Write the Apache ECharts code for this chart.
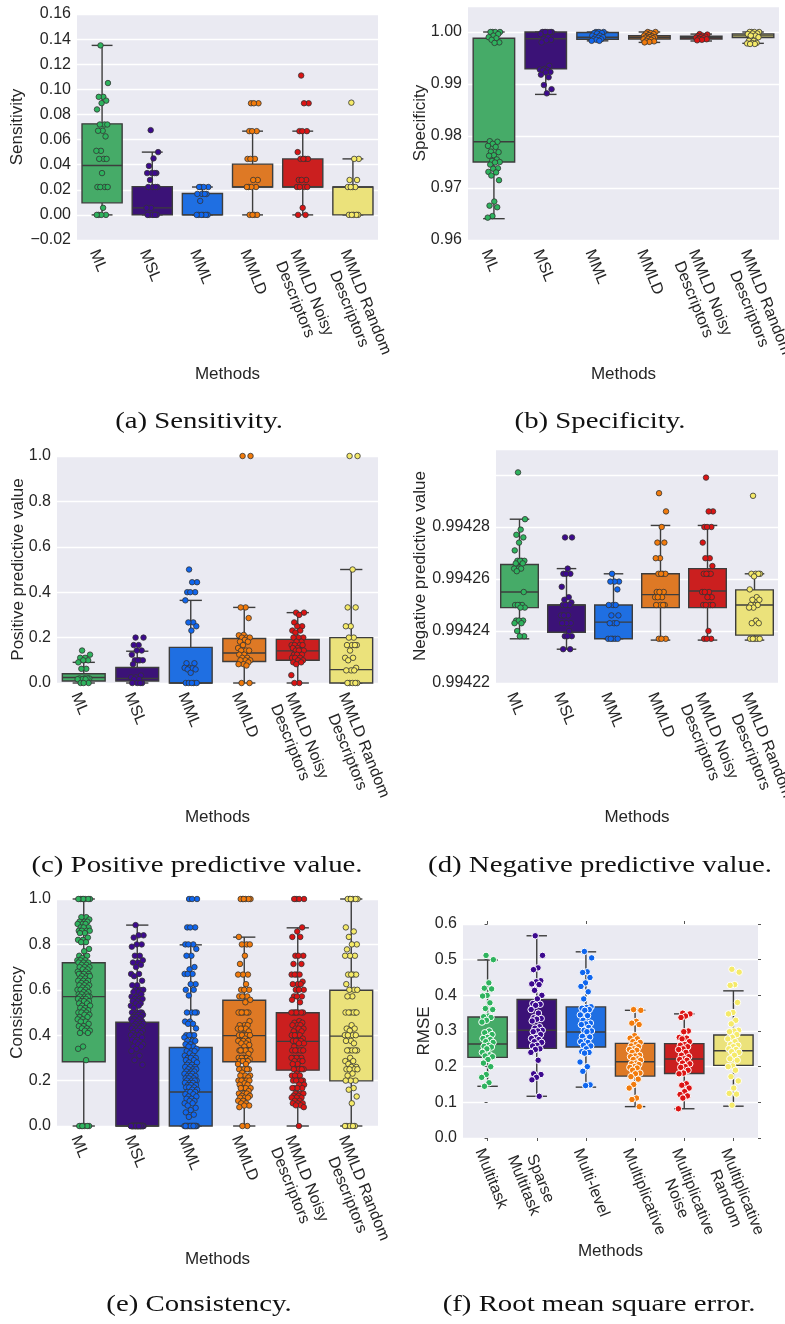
<!DOCTYPE html>
<html>
<head>
<meta charset="utf-8">
<script src="https://cdn.jsdelivr.net/npm/echarts@6/dist/echarts.min.js"></script>
<style>
  html, body { margin: 0; padding: 0; background: #ffffff; }
  #chart { width: 785px; height: 1324px; }
</style>
</head>
<body>
<div id="chart"></div>
<script>
// ---- categories ----
const methodNames = ['ML', 'MSL', 'MML', 'MMLD', 'MMLD Noisy\nDescriptors', 'MMLD Random\nDescriptors'];
const rmseMethodNames = ['Multitask', 'Sparse\nMultitask', 'Multi-level', 'Multiplicative', 'Multiplicative\nNoise', 'Multiplicative\nRandom'];

// ---- box statistics per method: [lower whisker, Q1, median, Q3, upper whisker] ----
const sensitivityBoxes = [
  [0, 0.0096, 0.0393, 0.0725, 0.135],
  [0, 0, 0.0056, 0.0225, 0.050],
  [0, 0, 0, 0.017, 0.0222],
  [0, 0.0222, 0.0222, 0.0404, 0.0667],
  [0, 0.0222, 0.0222, 0.0446, 0.0667],
  [0, 0, 0.0222, 0.0222, 0.0446]
];
const specificityBoxes = [
  [0.9641, 0.9750, 0.9789, 0.9988, 1.0],
  [0.9880, 0.9929, 0.9987, 1.0, 1.0],
  [0.9983, 0.9986, 0.9990, 0.9999, 1.0],
  [0.9980, 0.99865, 0.9990, 0.99929, 1.0],
  [0.99827, 0.99865, 0.9989, 0.99917, 0.9996],
  [0.99782, 0.99891, 0.99925, 0.99961, 1.0]
];
const ppvBoxes = [
  [0, 0.009, 0.024, 0.041, 0.091],
  [0, 0.009, 0.02, 0.068, 0.14],
  [0, 0, 0, 0.157, 0.364],
  [0, 0.095, 0.132, 0.196, 0.333],
  [0, 0.100, 0.1416, 0.192, 0.310],
  [0, 0, 0.059, 0.2, 0.5]
];
const npvBoxes = [
  [0.994237, 0.994249, 0.994255, 0.9942656, 0.994283],
  [0.994233, 0.9942395, 0.99425, 0.99425, 0.994264],
  [0.994237, 0.994237, 0.9942434, 0.99425, 0.994262],
  [0.9942365, 0.994249, 0.994254, 0.994262, 0.9942806],
  [0.9942365, 0.994249, 0.9942554, 0.994264, 0.9942806],
  [0.9942365, 0.9942384, 0.99425, 0.9942558, 0.994262]
];
const consistencyBoxes = [
  [0, 0.283, 0.570, 0.719, 1.0],
  [0, 0, 0, 0.457, 0.885],
  [0, 0, 0.150, 0.346, 0.798],
  [0, 0.283, 0.398, 0.554, 0.832],
  [0, 0.246, 0.373, 0.499, 0.873],
  [0, 0.199, 0.396, 0.598, 1.0]
];
const rmseBoxes = [
  [0.145, 0.226, 0.2636, 0.3394, 0.499],
  [0.117, 0.2514, 0.302, 0.3882, 0.567],
  [0.1426, 0.255, 0.2973, 0.3676, 0.522],
  [0.088, 0.1736, 0.2139, 0.2654, 0.358],
  [0.082, 0.181, 0.2214, 0.2645, 0.348],
  [0.0892, 0.2036, 0.2448, 0.2889, 0.4126]
];

// ---- individual observations per method ----
const sensitivityPoints = [
  [0.135, 0.105, 0.094, 0.094, 0.091, 0.089, 0.084, 0.072, 0.072, 0.072, 0.067, 0.067, 0.0625, 0.051, 0.051, 0.0446, 0.0446, 0.0446, 0.0333, 0.0222, 0.0222, 0.0222, 0.0222, 0.0056, 0, 0, 0, 0],
  [0.0675, 0.050, 0.045, 0.039, 0.0333, 0.0333, 0.0333, 0.0333, 0.0278, 0.0222, 0.0222, 0.0222, 0.0222, 0.0056, 0.0056, 0, 0, 0, 0, 0, 0],
  [0.0222, 0.0222, 0.0222, 0.0222, 0.0167, 0.0167, 0.0167, 0.0167, 0.0111, 0, 0, 0, 0, 0, 0],
  [0.0889, 0.0889, 0.0889, 0.0667, 0.0667, 0.0667, 0.0446, 0.0446, 0.0446, 0.0278, 0.0278, 0.0222, 0.0222, 0.0222, 0.0222, 0, 0, 0, 0],
  [0.111, 0.0889, 0.0889, 0.0667, 0.0667, 0.0667, 0.050, 0.0446, 0.0446, 0.0446, 0.0446, 0.0278, 0.0278, 0.0278, 0.0222, 0.0222, 0.0222, 0.0222, 0.0056, 0, 0],
  [0.0894, 0.0446, 0.0446, 0.0278, 0.0278, 0.0222, 0.0222, 0.0222, 0.0222, 0, 0, 0, 0, 0]
];
const specificityPoints = [
  [1.0, 1.0, 1.0, 1.0, 0.9996, 0.9993, 0.9990, 0.9988, 0.9985, 0.9980, 0.9979, 0.9790, 0.9789, 0.9785, 0.9781, 0.9779, 0.9770, 0.9769, 0.9763, 0.9762, 0.9755, 0.9752, 0.9750, 0.9749, 0.9745, 0.9738, 0.9737, 0.9731, 0.9730, 0.9724, 0.9715, 0.9674, 0.9666, 0.9663, 0.9646, 0.9643],
  [1.0, 1.0, 1.0, 1.0, 1.0, 1.0, 0.9996, 0.9990, 0.9986, 0.9985, 0.9984, 0.9980, 0.9935, 0.9929, 0.9928, 0.9927, 0.9926, 0.9923, 0.9922, 0.9918, 0.9913, 0.9898, 0.9890, 0.9882],
  [1.0, 1.0, 1.0, 0.9998, 0.9998, 0.9997, 0.9993, 0.9993, 0.9990, 0.9990, 0.9989, 0.9986, 0.9986, 0.9985, 0.9983, 0.9983],
  [1.0, 1.0, 0.9998, 0.9997, 0.9996, 0.9994, 0.9993, 0.9992, 0.9991, 0.9990, 0.9990, 0.9989, 0.9988, 0.9987, 0.9986, 0.9985, 0.9983, 0.9982, 0.9981, 0.9980],
  [0.9996, 0.9995, 0.9993, 0.9992, 0.9991, 0.9990, 0.9989, 0.9988, 0.9987, 0.9986, 0.9985, 0.9984],
  [1.0, 1.0, 1.0, 1.0, 0.9997, 0.9997, 0.9996, 0.9993, 0.9993, 0.9990, 0.9983, 0.9983, 0.9979, 0.9979, 0.9978, 0.9977, 0.9977]
];
const ppvPoints = [
  [0.143, 0.125, 0.111, 0.111, 0.1, 0.1, 0.091, 0.0625, 0.0625, 0.02, 0.02, 0.02, 0.02, 0.0167, 0.0167, 0.0167, 0, 0, 0],
  [0.2, 0.2, 0.167, 0.167, 0.143, 0.143, 0.125, 0.1, 0.1, 0.1, 0.1, 0.083, 0.033, 0.025, 0.025, 0.0167, 0.0167, 0, 0, 0, 0],
  [0.5, 0.444, 0.444, 0.4, 0.4, 0.4, 0.364, 0.267, 0.267, 0.25, 0.231, 0.087, 0.087, 0.0667, 0.0667, 0.0645, 0.06, 0.06, 0.045, 0, 0, 0, 0, 0],
  [1.0, 1.0, 0.333, 0.333, 0.286, 0.212, 0.21, 0.2, 0.2, 0.2, 0.19, 0.182, 0.182, 0.167, 0.154, 0.143, 0.143, 0.143, 0.125, 0.125, 0.111, 0.111, 0.1, 0.1, 0.1, 0.091, 0.083, 0.083, 0.077, 0, 0],
  [0.31, 0.31, 0.3, 0.267, 0.25, 0.25, 0.231, 0.231, 0.222, 0.2, 0.2, 0.2, 0.182, 0.182, 0.167, 0.167, 0.167, 0.167, 0.154, 0.154, 0.143, 0.143, 0.143, 0.143, 0.125, 0.125, 0.125, 0.111, 0.111, 0.111, 0.1, 0.1, 0.091, 0.091, 0.083, 0.0345, 0, 0],
  [1.0, 1.0, 0.5, 0.333, 0.333, 0.25, 0.25, 0.2, 0.2, 0.167, 0.167, 0.167, 0.167, 0.143, 0.111, 0.111, 0.1, 0.0667, 0.0556, 0.0556, 0.0556, 0, 0, 0, 0, 0]
];
const npvPoints = [
  [0.994301, 0.994283, 0.994279, 0.994277, 0.994276, 0.994274, 0.994271, 0.994267, 0.994267, 0.994267, 0.994267, 0.994266, 0.994266, 0.994264, 0.994264, 0.994264, 0.994263, 0.994255, 0.99425, 0.99425, 0.99425, 0.99425, 0.994249, 0.994249, 0.994244, 0.994244, 0.994244, 0.994243, 0.994243, 0.99424, 0.994238, 0.994238],
  [0.994276, 0.994276, 0.994264, 0.994262, 0.994262, 0.994262, 0.994257, 0.994253, 0.994252, 0.994251, 0.99425, 0.99425, 0.99425, 0.99425, 0.994246, 0.994246, 0.994246, 0.994243, 0.994243, 0.994243, 0.99424, 0.994238, 0.994238, 0.994238, 0.994233, 0.994233],
  [0.994262, 0.994259, 0.994259, 0.994259, 0.994256, 0.99425, 0.99425, 0.99425, 0.994246, 0.994246, 0.994243, 0.994243, 0.994243, 0.994237, 0.994237, 0.994237, 0.994237, 0.994237],
  [0.994293, 0.994286, 0.99428, 0.994274, 0.994274, 0.994268, 0.994268, 0.994262, 0.994262, 0.994262, 0.994262, 0.994255, 0.994255, 0.994255, 0.994253, 0.994253, 0.994253, 0.99425, 0.99425, 0.99425, 0.99425, 0.994237, 0.994237, 0.994237],
  [0.994299, 0.994286, 0.994286, 0.99428, 0.99428, 0.99428, 0.994274, 0.994268, 0.994268, 0.994265, 0.994262, 0.994262, 0.994262, 0.994262, 0.994255, 0.994255, 0.994255, 0.994253, 0.994253, 0.99425, 0.99425, 0.99425, 0.99425, 0.99424, 0.994237, 0.994237, 0.994237],
  [0.994292, 0.994262, 0.994262, 0.994262, 0.994262, 0.994261, 0.994256, 0.994253, 0.994252, 0.994252, 0.99425, 0.99425, 0.99425, 0.994249, 0.994249, 0.994244, 0.994243, 0.994243, 0.994237, 0.994237, 0.994237, 0.994237, 0.994237]
];
const consistencyPoints = [
  [1, 1, 1, 1, 1, 1, 1, 0.92, 0.92, 0.91, 0.9, 0.9, 0.9, 0.89, 0.89, 0.89, 0.875, 0.875, 0.875, 0.86, 0.86, 0.86, 0.86, 0.85, 0.85, 0.83, 0.82, 0.82, 0.81, 0.81, 0.78, 0.77, 0.75, 0.75, 0.74, 0.73, 0.73, 0.73, 0.72, 0.72, 0.72, 0.71, 0.71, 0.7, 0.7, 0.7, 0.69, 0.69, 0.68, 0.68, 0.67, 0.67, 0.67, 0.67, 0.66, 0.66, 0.66, 0.65, 0.65, 0.64, 0.64, 0.64, 0.63, 0.63, 0.62, 0.62, 0.62, 0.61, 0.61, 0.6, 0.6, 0.6, 0.59, 0.59, 0.58, 0.58, 0.58, 0.57, 0.57, 0.57, 0.57, 0.56, 0.56, 0.56, 0.55, 0.55, 0.55, 0.54, 0.54, 0.53, 0.53, 0.52, 0.52, 0.51, 0.51, 0.5, 0.5, 0.5, 0.49, 0.49, 0.48, 0.48, 0.47, 0.47, 0.46, 0.46, 0.45, 0.44, 0.44, 0.43, 0.43, 0.42, 0.42, 0.41, 0.41, 0.35, 0.34, 0.29, 0, 0, 0, 0, 0, 0],
  [0.885, 0.84, 0.84, 0.83, 0.8, 0.8, 0.79, 0.75, 0.75, 0.73, 0.72, 0.72, 0.71, 0.7, 0.67, 0.67, 0.66, 0.64, 0.62, 0.62, 0.6, 0.6, 0.6, 0.59, 0.59, 0.58, 0.57, 0.57, 0.56, 0.56, 0.56, 0.55, 0.55, 0.54, 0.54, 0.53, 0.53, 0.52, 0.5, 0.5, 0.5, 0.5, 0.49, 0.49, 0.49, 0.48, 0.48, 0.48, 0.47, 0.47, 0.47, 0.46, 0.46, 0.46, 0.45, 0.45, 0.45, 0.44, 0.44, 0.44, 0.43, 0.43, 0.43, 0.42, 0.42, 0.42, 0.41, 0.41, 0.4, 0.4, 0.4, 0.39, 0.39, 0.38, 0.38, 0.37, 0.37, 0.36, 0.36, 0.35, 0.35, 0.34, 0.33, 0.31, 0.29, 0.27,
   0, 0, 0, 0, 0, 0, 0, 0, 0, 0, 0, 0, 0, 0, 0, 0, 0, 0, 0, 0, 0, 0, 0, 0, 0, 0, 0, 0, 0, 0, 0, 0, 0, 0, 0, 0, 0, 0, 0, 0],
  [1, 1, 1, 0.875, 0.875, 0.875, 0.8, 0.8, 0.8, 0.78, 0.75, 0.75, 0.7, 0.69, 0.67, 0.67, 0.67, 0.625, 0.625, 0.6, 0.6, 0.575, 0.5, 0.5, 0.5, 0.5, 0.46, 0.46, 0.45, 0.45, 0.43, 0.4, 0.4, 0.4, 0.4, 0.39, 0.375, 0.375, 0.375, 0.36, 0.36, 0.35, 0.35, 0.34, 0.33, 0.33, 0.33, 0.32, 0.31, 0.31, 0.3, 0.3, 0.3, 0.29, 0.29, 0.28, 0.28, 0.27, 0.27, 0.26, 0.26, 0.26, 0.25, 0.25, 0.25, 0.24, 0.24, 0.24, 0.23, 0.23, 0.23, 0.22, 0.22, 0.22, 0.21, 0.21, 0.21, 0.2, 0.2, 0.2, 0.2, 0.19, 0.19, 0.19, 0.18, 0.18, 0.18, 0.17, 0.17, 0.17, 0.16, 0.16, 0.15, 0.15, 0.15, 0.14, 0.14, 0.13, 0.13, 0.12, 0.12, 0.11, 0.11, 0.1, 0.1, 0.09, 0.08, 0.07, 0.06, 0.05, 0.04,
   0, 0, 0, 0, 0, 0, 0, 0, 0, 0, 0, 0, 0, 0, 0, 0, 0, 0, 0, 0],
  [1, 1, 1, 1, 1, 1, 0.833, 0.8, 0.8, 0.8, 0.75, 0.714, 0.667, 0.667, 0.667, 0.625, 0.6, 0.6, 0.6, 0.571, 0.571, 0.571, 0.556, 0.545, 0.5, 0.5, 0.5, 0.5, 0.5, 0.5, 0.462, 0.444, 0.444, 0.444, 0.429, 0.429, 0.429, 0.429, 0.417, 0.4, 0.4, 0.4, 0.4, 0.4, 0.385, 0.375, 0.375, 0.375, 0.375, 0.364, 0.364, 0.357, 0.35, 0.333, 0.333, 0.333, 0.333, 0.333, 0.333, 0.318, 0.3, 0.3, 0.3, 0.3, 0.294, 0.286, 0.286, 0.286, 0.286, 0.273, 0.273, 0.25, 0.25, 0.25, 0.25, 0.25, 0.235, 0.222, 0.222, 0.222, 0.214, 0.2, 0.2, 0.2, 0.2, 0.2, 0.188, 0.182, 0.182, 0.167, 0.167, 0.167, 0.167, 0.154, 0.143, 0.143, 0.143, 0.133, 0.133, 0.125, 0.125, 0.125, 0.111, 0.111, 0.1, 0.1, 0.09, 0.09, 0.083, 0, 0],
  [1, 1, 1, 1, 0.875, 0.857, 0.833, 0.833, 0.75, 0.75, 0.75, 0.714, 0.714, 0.667, 0.667, 0.667, 0.667, 0.636, 0.625, 0.625, 0.625, 0.6, 0.6, 0.6, 0.571, 0.571, 0.571, 0.556, 0.545, 0.5, 0.5, 0.5, 0.5, 0.5, 0.5, 0.5, 0.462, 0.455, 0.455, 0.444, 0.444, 0.444, 0.429, 0.429, 0.429, 0.417, 0.417, 0.4, 0.4, 0.4, 0.4, 0.385, 0.375, 0.375, 0.375, 0.375, 0.364, 0.364, 0.35, 0.333, 0.333, 0.333, 0.333, 0.333, 0.333, 0.3, 0.3, 0.3, 0.3, 0.3, 0.286, 0.286, 0.286, 0.273, 0.273, 0.25, 0.25, 0.25, 0.25, 0.25, 0.25, 0.231, 0.222, 0.222, 0.222, 0.2, 0.2, 0.2, 0.2, 0.2, 0.182, 0.182, 0.167, 0.167, 0.167, 0.167, 0.143, 0.143, 0.143, 0.133, 0.133, 0.125, 0.125, 0.125, 0.111, 0.111, 0.1, 0.1, 0.1, 0.091, 0.091, 0.083, 0],
  [1, 1, 1, 1, 1, 1, 0.875, 0.857, 0.833, 0.8, 0.8, 0.778, 0.75, 0.75, 0.75, 0.667, 0.667, 0.667, 0.667, 0.625, 0.6, 0.6, 0.6, 0.571, 0.571, 0.5, 0.5, 0.5, 0.5, 0.5, 0.5, 0.444, 0.429, 0.429, 0.42, 0.4, 0.4, 0.4, 0.4, 0.375, 0.375, 0.364, 0.333, 0.333, 0.333, 0.333, 0.333, 0.3, 0.286, 0.286, 0.273, 0.26, 0.26, 0.25, 0.25, 0.25, 0.25, 0.231, 0.222, 0.2, 0.2, 0.2, 0.167, 0.16, 0.13, 0.1, 0, 0, 0, 0, 0]
];
const rmsePoints = [
  [0.512, 0.5, 0.435, 0.42, 0.418, 0.4, 0.398, 0.379, 0.363, 0.36, 0.342, 0.34, 0.338, 0.33, 0.325, 0.3, 0.295, 0.29, 0.282, 0.279, 0.276, 0.27, 0.268, 0.26, 0.257, 0.255, 0.25, 0.24, 0.233, 0.23, 0.228, 0.22, 0.21, 0.2, 0.178, 0.17, 0.155, 0.145],
  [0.567, 0.512, 0.477, 0.472, 0.441, 0.438, 0.432, 0.43, 0.414, 0.4, 0.39, 0.377, 0.375, 0.372, 0.36, 0.35, 0.337, 0.335, 0.333, 0.328, 0.312, 0.308, 0.302, 0.3, 0.298, 0.29, 0.282, 0.279, 0.276, 0.27, 0.268, 0.26, 0.258, 0.25, 0.248, 0.24, 0.218, 0.18, 0.178, 0.17, 0.163, 0.117],
  [0.523, 0.505, 0.466, 0.464, 0.45, 0.435, 0.425, 0.41, 0.39, 0.368, 0.366, 0.364, 0.36, 0.358, 0.345, 0.343, 0.33, 0.322, 0.32, 0.318, 0.31, 0.302, 0.3, 0.298, 0.285, 0.283, 0.272, 0.27, 0.268, 0.26, 0.258, 0.25, 0.242, 0.24, 0.238, 0.213, 0.2, 0.187, 0.149, 0.147],
  [0.36, 0.358, 0.327, 0.322, 0.318, 0.287, 0.28, 0.278, 0.27, 0.268, 0.262, 0.258, 0.256, 0.25, 0.248, 0.246, 0.24, 0.232, 0.23, 0.228, 0.222, 0.22, 0.218, 0.21, 0.208, 0.206, 0.2, 0.198, 0.196, 0.19, 0.182, 0.18, 0.172, 0.165, 0.15, 0.14, 0.112, 0.108, 0.088],
  [0.35, 0.348, 0.342, 0.338, 0.3, 0.298, 0.282, 0.28, 0.278, 0.27, 0.262, 0.26, 0.256, 0.25, 0.248, 0.24, 0.232, 0.228, 0.222, 0.22, 0.218, 0.21, 0.208, 0.2, 0.198, 0.19, 0.182, 0.18, 0.152, 0.148, 0.14, 0.13, 0.122, 0.118, 0.112, 0.082],
  [0.473, 0.465, 0.43, 0.428, 0.38, 0.352, 0.348, 0.33, 0.32, 0.302, 0.3, 0.298, 0.29, 0.282, 0.278, 0.27, 0.262, 0.26, 0.256, 0.25, 0.248, 0.242, 0.24, 0.232, 0.222, 0.218, 0.202, 0.2, 0.19, 0.172, 0.16, 0.14, 0.125, 0.123, 0.092]
];

// ---- styling ----
const FONT = '"Liberation Sans", Arial, sans-serif';
const TEXT_COLOR = '#262626';
const EDGE_COLOR = '#3d3d3d';
const boxFills = ['#46ab68', '#3b1277', '#1f6fe2', '#de7925', '#cb1f1f', '#ebe27b'];
const pointFills = ['#2eb35e', '#3d0a8f', '#0f66ef', '#f27b0c', '#dc1414', '#f5ea69'];
const JITTER = 0.12;

// Deterministic horizontal spread for the strip points (low-discrepancy sequence).
function jitter(k) {
  const f = (k * 0.6180339887 + 0.37) % 1;
  return (f - 0.5) * 2 * JITTER;
}

function tickFormatter(step, digits, hidden) {
  return function (v) {
    const r = v / step;
    if (Math.abs(r - Math.round(r)) > 1e-6) return '';
    if (hidden !== undefined && Math.abs(v - hidden) < step * 1e-3) return '';
    if (Math.abs(v) < step * 1e-6) v = 0;
    return v.toFixed(digits).replace('-', '\u2212');
  };
}

// Box, whiskers, caps and median drawn through the axis scales.
function renderBox(params, api) {
  const k = api.value(0);
  const band = api.size([1, 0])[0];
  const bw = band * 0.8;
  const cw = bw * 0.52;
  const lo = api.coord([k, api.value(1)]);
  const q1 = api.coord([k, api.value(2)]);
  const md = api.coord([k, api.value(3)]);
  const q3 = api.coord([k, api.value(4)]);
  const hi = api.coord([k, api.value(5)]);
  const x = lo[0];
  const ls = { stroke: EDGE_COLOR, lineWidth: 1.4, fill: null };
  return {
    type: 'group',
    children: [
      { type: 'line', shape: { x1: x, y1: q1[1], x2: x, y2: lo[1] }, style: ls },
      { type: 'line', shape: { x1: x, y1: q3[1], x2: x, y2: hi[1] }, style: ls },
      { type: 'line', shape: { x1: x - cw / 2, y1: lo[1], x2: x + cw / 2, y2: lo[1] }, style: ls },
      { type: 'line', shape: { x1: x - cw / 2, y1: hi[1], x2: x + cw / 2, y2: hi[1] }, style: ls },
      { type: 'rect', shape: { x: x - bw / 2, y: q3[1], width: bw, height: Math.max(q1[1] - q3[1], 0.5) },
        style: { fill: boxFills[k], stroke: EDGE_COLOR, lineWidth: 1.4 } },
      { type: 'line', shape: { x1: x - bw / 2, y1: md[1], x2: x + bw / 2, y2: md[1] }, style: ls }
    ]
  };
}

const panels = [
  { grid: { left: 77, top: 14, width: 301, height: 226 }, labels: methodNames, boxes: sensitivityBoxes, points: sensitivityPoints,
    yName: 'Sensitivity', yMin: -0.02, yMax: 0.16, step: 0.02, digits: 2, yNameGap: 51, xNameGap: 126,
    caption: '(a) Sensitivity.', cx: 199, cy: 422 },
  { grid: { left: 468, top: 6, width: 311, height: 234 }, labels: methodNames, boxes: specificityBoxes, points: specificityPoints,
    yName: 'Specificity', yMin: 0.96, yMax: 1.005, step: 0.01, digits: 2, yNameGap: 39, xNameGap: 126,
    caption: '(b) Specificity.', cx: 600, cy: 422 },
  { grid: { left: 57, top: 456, width: 321, height: 227 }, labels: methodNames, boxes: ppvBoxes, points: ppvPoints,
    yName: 'Positive predictive value', yMin: 0, yMax: 1.0, step: 0.2, digits: 1, yNameGap: 30, xNameGap: 126,
    caption: '(c) Positive predictive value.', cx: 197, cy: 866 },
  { grid: { left: 496, top: 449, width: 282, height: 234 }, labels: methodNames, boxes: npvBoxes, points: npvPoints,
    yName: 'Negative predictive value', yMin: 0.99422, yMax: 0.99431, step: 0.00002, digits: 5, hidden: 0.9943, yNameGap: 67, xNameGap: 126,
    caption: '(d) Negative predictive value.', cx: 600, cy: 866 },
  { grid: { left: 57, top: 899, width: 321, height: 227 }, labels: methodNames, boxes: consistencyBoxes, points: consistencyPoints,
    yName: 'Consistency', yMin: 0, yMax: 1.0, step: 0.2, digits: 1, yNameGap: 31, xNameGap: 125,
    caption: '(e) Consistency.', cx: 199, cy: 1305 },
  { grid: { left: 463, top: 924, width: 295, height: 214 }, labels: rmseMethodNames, boxes: rmseBoxes, points: rmsePoints,
    yName: 'RMSE', yMin: 0, yMax: 0.6, step: 0.1, digits: 1, yNameGap: 30, xNameGap: 105,
    caption: '(f) Root mean square error.', cx: 599, cy: 1305, ticks: true, whiteEdge: true, pointSize: 6.5 }
];

const option = {
  animation: false,
  backgroundColor: '#ffffff',
  textStyle: { fontFamily: FONT },
  grid: [], xAxis: [], yAxis: [], series: [], graphic: []
};

const tickStyle = { show: true, length: 3, inside: false, lineStyle: { color: '#555555', width: 1 } };

panels.forEach(function (p, i) {
  option.grid.push(Object.assign({ show: true, backgroundColor: '#eaeaf2', borderWidth: 0, containLabel: false, outerBoundsMode: 'none' }, p.grid));

  const catIdx = option.xAxis.length;
  option.xAxis.push({
    type: 'category', gridIndex: i, data: p.labels, boundaryGap: true,
    axisLine: { show: false },
    axisTick: p.ticks ? Object.assign({ alignWithLabel: true }, tickStyle) : { show: false },
    splitLine: { show: false },
    axisLabel: {
      interval: 0, rotate: -68, align: 'left', verticalAlign: 'top', margin: p.ticks ? 8 : 7,
      hideOverlap: false,
      formatter: function (v) { return v.split('\n').map(function (s) { return '{c|' + s + '}'; }).join('\n'); },
      rich: { c: { align: 'center', fontSize: 16, lineHeight: 18, color: TEXT_COLOR, fontFamily: FONT } }
    },
    name: 'Methods', nameLocation: 'middle', nameGap: p.xNameGap, nameMoveOverlap: false,
    nameTextStyle: { fontSize: 17, color: TEXT_COLOR, fontFamily: FONT }
  });
  const valIdx = option.xAxis.length;
  option.xAxis.push({ type: 'value', gridIndex: i, min: -0.5, max: 5.5, show: false, splitLine: { show: false } });

  const yIdx = option.yAxis.length;
  option.yAxis.push({
    type: 'value', gridIndex: i, min: p.yMin, max: p.yMax, interval: p.step,
    axisLine: { show: false },
    axisTick: p.ticks ? tickStyle : { show: false },
    splitLine: { show: true, lineStyle: { color: '#ffffff', width: 1.3 } },
    axisLabel: { fontSize: 16, color: TEXT_COLOR, margin: 6, formatter: tickFormatter(p.step, p.digits, p.hidden) },
    name: p.yName, nameLocation: 'middle', nameGap: p.yNameGap, nameMoveOverlap: false,
    nameTextStyle: { fontSize: 17, color: TEXT_COLOR, fontFamily: FONT }
  });

  if (p.ticks) {
    option.xAxis.push({
      type: 'category', gridIndex: i, position: 'top', data: p.labels,
      axisLine: { show: false }, axisLabel: { show: false }, splitLine: { show: false },
      axisTick: Object.assign({ alignWithLabel: true }, tickStyle)
    });
    option.yAxis.push({
      type: 'value', gridIndex: i, position: 'right', min: p.yMin, max: p.yMax, interval: p.step,
      axisLine: { show: false }, axisLabel: { show: false }, splitLine: { show: false },
      axisTick: tickStyle
    });
  }

  option.series.push({
    type: 'custom', xAxisIndex: catIdx, yAxisIndex: yIdx, z: 2, clip: false,
    renderItem: renderBox,
    encode: { x: 0, y: [1, 2, 3, 4, 5] },
    data: p.boxes.map(function (b, k) { return [k].concat(b); })
  });

  const pts = [];
  p.points.forEach(function (vals, k) {
    vals.forEach(function (v, j) {
      pts.push({ value: [k + jitter(j), v], itemStyle: { color: pointFills[k] } });
    });
  });
  option.series.push({
    type: 'scatter', xAxisIndex: valIdx, yAxisIndex: yIdx, z: 3, clip: false,
    symbol: 'circle', symbolSize: p.pointSize || 5.5,
    itemStyle: p.whiteEdge
      ? { borderColor: '#ffffff', borderWidth: 1, opacity: 1 }
      : { borderColor: '#333333', borderWidth: 0.8, opacity: 1 },
    emphasis: { disabled: true },
    data: pts
  });

  option.graphic.push({
    type: 'text', x: p.cx, y: p.cy, scaleX: 1.2, silent: true,
    style: { text: p.caption, fontSize: 24, fontFamily: '"Liberation Serif", "Times New Roman", serif',
      fill: '#111111', align: 'center', verticalAlign: 'middle' }
  });
});

const chart = echarts.init(document.getElementById('chart'), null, { renderer: 'canvas' });
chart.setOption(option);
</script>
</body>
</html>
